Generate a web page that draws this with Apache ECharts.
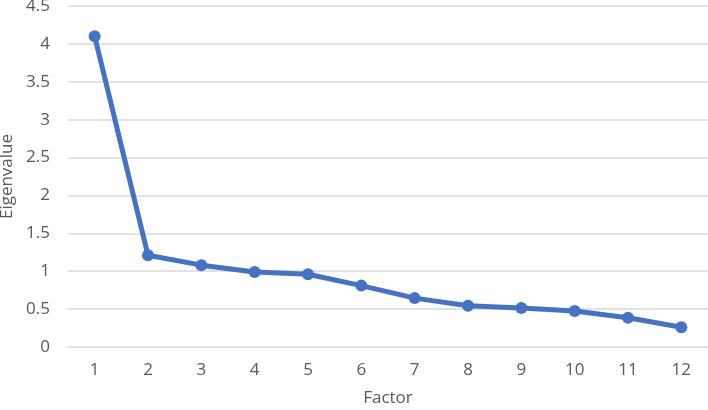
<!DOCTYPE html>
<html>
<head>
<meta charset="utf-8">
<script src="https://cdn.jsdelivr.net/npm/echarts@6/dist/echarts.min.js"></script>
<style>
  html, body { margin: 0; padding: 0; background: #fff; }
  #chart { width: 708px; height: 410px; }
</style>
</head>
<body>
<div id="chart"></div>
<script>
// factor numbers and their eigenvalues
const factors = ['1', '2', '3', '4', '5', '6', '7', '8', '9', '10', '11', '12']
const eigenvalues = [4.10, 1.21, 1.08, 0.99, 0.96, 0.81, 0.645, 0.545, 0.515, 0.475, 0.385, 0.26]

const textColor = '#595959'
const font = '"Open Sans", sans-serif'

const chart = echarts.init(document.getElementById('chart'))
chart.setOption({
  animation: false,
  grid: { left: 68, right: 0, top: 6, bottom: 63, containLabel: false, outerBoundsMode: 'none' },
  xAxis: {
    type: 'category',
    data: factors,
    boundaryGap: true,
    name: 'Factor',
    nameLocation: 'middle',
    nameGap: 43,
    nameTextStyle: { color: textColor, fontSize: 17, fontFamily: font },
    axisLine: { show: false },
    axisTick: { show: false },
    axisLabel: { color: textColor, fontSize: 17, fontFamily: font, margin: 15 }
  },
  yAxis: {
    type: 'value',
    min: 0,
    max: 4.5,
    interval: 0.5,
    name: 'Eigenvalue',
    nameLocation: 'middle',
    nameGap: 50,
    nameTextStyle: { color: textColor, fontSize: 17, fontFamily: font },
    axisLabel: { color: textColor, fontSize: 17, fontFamily: font, margin: 18 },
    splitLine: { lineStyle: { color: '#d9d9d9', width: 1.5 } }
  },
  series: [{
    type: 'line',
    data: eigenvalues,
    symbol: 'circle',
    symbolSize: 12,
    lineStyle: { color: '#4472C4', width: 5 },
    itemStyle: { color: '#4472C4' }
  }]
})
</script>
</body>
</html>
